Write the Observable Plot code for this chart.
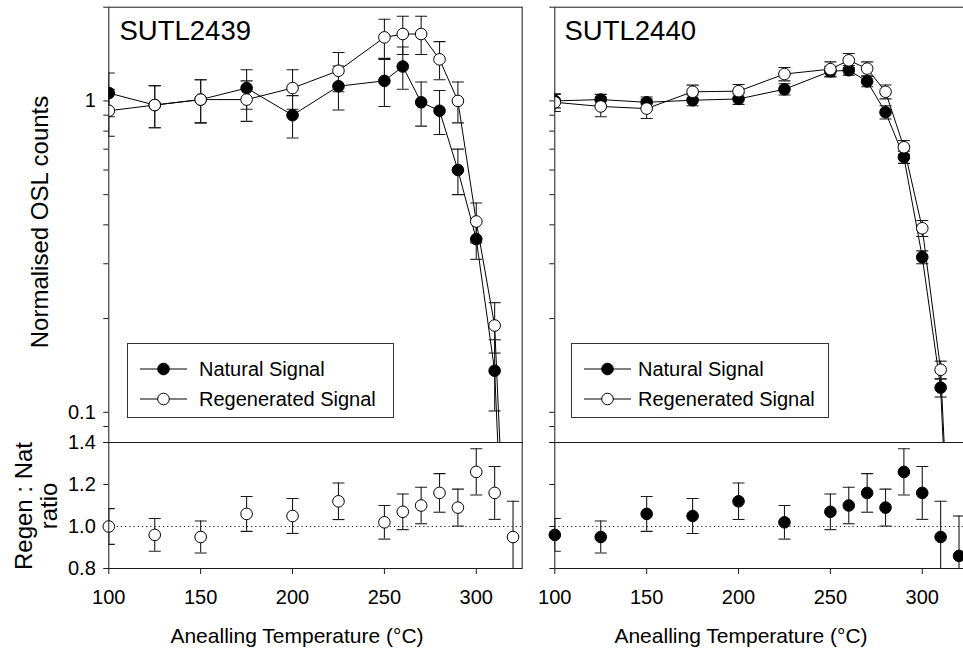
<!DOCTYPE html>
<html><head><meta charset="utf-8">
<script src="https://cdn.jsdelivr.net/npm/d3@7"></script>
<script src="https://cdn.jsdelivr.net/npm/@observablehq/plot@0.6"></script>
<style>
body{margin:0;background:#fff;overflow:hidden;}
#root{position:relative;width:963px;height:655px;overflow:hidden;font-family:"Liberation Sans",Arial,sans-serif;color:#000;}
#root svg{position:absolute;overflow:visible;}
.t{position:absolute;white-space:nowrap;}
.legend{position:absolute;border:1px solid #333;background:#fff;box-sizing:border-box;font-size:20px;}
.legend .row{position:absolute;left:0;height:24px;line-height:24px;}
.legend svg{position:absolute !important;}
</style></head><body><div id="root"></div>
<script>
// ---- data ----
const temps = [100,125,150,175,200,225,250,260,270,280,290,300,310,320];
// SUTL2439 (normalised OSL counts)
const nat2439    = [1.06,0.97,1.01,1.10,0.90,1.115,1.16,1.29,0.99,0.93,0.60,0.36,0.136,0.006];
const natErr2439 = [0.17,0.15,0.16,0.16,0.14,0.18,0.20,0.20,0.16,0.15,0.10,0.05,0.035,0];
const reg2439    = [0.93,0.97,1.01,1.01,1.10,1.25,1.60,1.64,1.64,1.36,1.00,0.41,0.19,0.009];
const regErr2439 = [0.16,0.15,0.16,0.15,0.16,0.18,0.23,0.23,0.23,0.19,0.15,0.06,0.035,0];
// SUTL2440 (normalised OSL counts)
const nat2440    = [1.00,1.01,0.99,1.005,1.015,1.09,1.245,1.255,1.155,0.92,0.66,0.315,0.12,0.006];
const natErr2440 = [0.05,0.04,0.04,0.04,0.04,0.045,0.045,0.045,0.045,0.045,0.03,0.015,0.008,0];
const reg2440    = [0.99,0.96,0.945,1.07,1.075,1.22,1.265,1.35,1.27,1.07,0.71,0.39,0.137,0.008];
const regErr2440 = [0.065,0.07,0.067,0.054,0.054,0.06,0.07,0.07,0.065,0.055,0.036,0.023,0.009,0];
// Regen : Nat ratio
const ratio2439    = [1.00,0.96,0.95,1.06,1.05,1.12,1.02,1.07,1.10,1.16,1.09,1.26,1.16,0.95];
const ratioErr2439 = [0.085,0.078,0.076,0.083,0.083,0.087,0.08,0.085,0.087,0.092,0.088,0.11,0.126,0.17];
const ratio2440    = [0.96,0.95,1.06,1.05,1.12,1.02,1.07,1.10,1.16,1.09,1.26,1.16,0.95,0.86];
const ratioErr2440 = [0.078,0.076,0.083,0.083,0.087,0.08,0.085,0.087,0.092,0.088,0.11,0.126,0.17,0.19];
// ticks
const xTicks = [100,150,200,250,300];
const yMajor = [0.1,1];
const yMinor = [0.08,0.09,0.2,0.3,0.4,0.5,0.6,0.7,0.8,0.9,2];
const ratioTicks = [0.8,1.0,1.2,1.4];
const sampleNames = ["SUTL2439","SUTL2440"];
const seriesNames = ["Natural Signal","Regenerated Signal"];
const xTitle = "Anealling Temperature (°C)";
const yTitleTop = "Normalised OSL counts";
const yTitleBottom = ["Regen : Nat","ratio"];

// ---- helpers ----
const cap = {draw(ctx, size){ const w = Math.sqrt(size/Math.PI); ctx.moveTo(-w,0); ctx.lineTo(w,0); }};
const FONT = '"Liberation Sans", Arial, sans-serif';
const INK = "#1a1a1a";
const root = document.getElementById("root");

function errMarks(rows, key, ekey){
  return [
    Plot.ruleX(rows, {x:"t", y1:d=>d[key]-d[ekey], y2:d=>d[key]+d[ekey], stroke:INK, strokeWidth:1.1, clip:true}),
    Plot.dot(rows, {x:"t", y:d=>d[key]+d[ekey], symbol:cap, r:6, stroke:INK, strokeWidth:1.1, clip:true}),
    Plot.dot(rows, {x:"t", y:d=>d[key]-d[ekey], symbol:cap, r:6, stroke:INK, strokeWidth:1.1, clip:true})
  ];
}

function topPanel(nat, ne, reg, re, labels){
  const rows = temps.map((t,i)=>({t, nat:nat[i], ne:ne[i], reg:reg[i], re:re[i]}));
  return Plot.plot({
    width:530, height:442,
    marginLeft:108.3, marginRight:8.3, marginTop:6.7, marginBottom:0,
    style:{fontFamily:FONT, fontSize:"20px", color:"#000", background:"transparent"},
    x:{domain:[100,325], axis:null},
    y:{type:"log", domain:[0.08,2], axis:null},
    marks:[
      Plot.axisY({ticks:yMinor, tickSize:5, tickFormat:()=>"", label:null, stroke:INK}),
      Plot.axisY({ticks:yMajor, tickSize:5, tickPadding:8, tickFormat: labels ? (d=>d===1?"1":"0.1") : ()=>"", label:null, stroke:INK, fill:"#000", fontSize:20}),
      Plot.line(rows, {x:"t", y:"nat", stroke:"#000", strokeWidth:1, clip:true}),
      Plot.line(rows, {x:"t", y:"reg", stroke:"#000", strokeWidth:1, clip:true}),
      ...errMarks(rows, "nat", "ne"),
      ...errMarks(rows, "reg", "re"),
      Plot.dot(rows, {x:"t", y:"nat", r:5.8, fill:"#000", stroke:"#000", strokeWidth:1, clip:true}),
      Plot.dot(rows, {x:"t", y:"reg", r:5.8, fill:"#fff", stroke:"#000", strokeWidth:1, clip:true}),
      Plot.frame({stroke:INK, strokeWidth:1})
    ]
  });
}

function bottomPanel(ratio, err, open, labels){
  const rows = temps.map((t,i)=>({t, r:ratio[i], e:err[i]}));
  return Plot.plot({
    width:530, height:230,
    marginLeft:108.3, marginRight:8.3, marginTop:12, marginBottom:92,
    style:{fontFamily:FONT, fontSize:"20px", color:"#000", background:"transparent"},
    x:{domain:[100,325], axis:null},
    y:{domain:[0.8,1.4], axis:null},
    marks:[
      Plot.ruleY([1], {stroke:INK, strokeWidth:1, strokeDasharray:"1.2,3"}),
      Plot.axisX({ticks:xTicks, tickSize:6, tickPadding:15, label:null, stroke:INK, fill:"#000", fontSize:20}),
      Plot.axisY({ticks:ratioTicks, tickSize:5, tickPadding:8, tickFormat: labels ? d3.format(".1f") : ()=>"", label:null, stroke:INK, fill:"#000", fontSize:20}),
      Plot.ruleX(rows, {x:"t", y1:d=>d.r-d.e, y2:d=>d.r+d.e, stroke:INK, strokeWidth:1.1, clip:true}),
      Plot.dot(rows, {x:"t", y:d=>d.r+d.e, symbol:cap, r:6, stroke:INK, strokeWidth:1.1, clip:true}),
      Plot.dot(rows, {x:"t", y:d=>d.r-d.e, symbol:cap, r:6, stroke:INK, strokeWidth:1.1, clip:true}),
      Plot.dot(rows, {x:"t", y:"r", r:5.8, fill: open ? "#fff" : "#000", stroke:"#000", strokeWidth:1}),
      Plot.frame({stroke:INK, strokeWidth:1})
    ]
  });
}

function place(el, left, top){ el.style.left = left+"px"; el.style.top = top+"px"; root.appendChild(el); }
function text(str, left, top, size, extra){
  const d = document.createElement("div"); d.className = "t"; d.textContent = str;
  d.style.fontSize = size+"px"; d.style.left = left+"px"; d.style.top = top+"px";
  if (extra) Object.assign(d.style, extra);
  root.appendChild(d); return d;
}
function legend(left, top, width, textLeft, lineLeft){
  const box = document.createElement("div"); box.className = "legend";
  Object.assign(box.style, {left:left+"px", top:top+"px", width:width+"px", height:"75px"});
  seriesNames.forEach((name,i)=>{
    const row = document.createElement("div"); row.className = "row";
    row.style.top = (12.5 + i*30)+"px"; row.style.width = "100%";
    const svg = document.createElementNS("http://www.w3.org/2000/svg","svg");
    svg.setAttribute("width","60"); svg.setAttribute("height","24");
    svg.style.left = lineLeft+"px"; svg.style.top = "0px";
    svg.innerHTML = `<line x1="0" x2="47" y1="12" y2="12" stroke="#000" stroke-width="1"/><circle cx="23.5" cy="12" r="5.8" fill="${i===0?"#000":"#fff"}" stroke="#000" stroke-width="1"/>`;
    row.appendChild(svg);
    const lab = document.createElement("span"); lab.textContent = name;
    lab.style.position = "absolute"; lab.style.left = textLeft+"px"; lab.style.whiteSpace="nowrap";
    row.appendChild(lab);
    box.appendChild(row);
  });
  root.appendChild(box);
}

// ---- panels ----
place(topPanel(nat2439, natErr2439, reg2439, regErr2439, true), 0, 0);
place(bottomPanel(ratio2439, ratioErr2439, true, true), 0, 430);
place(topPanel(nat2440, natErr2440, reg2440, regErr2440, false), 445.7, 0);
place(bottomPanel(ratio2440, ratioErr2440, false, false), 445.7, 430);

// panel titles
text(sampleNames[0], 119.5, 15, 27.5);
text(sampleNames[1], 564.5, 15, 27.5);

// legends
legend(127, 343, 267, 71, 12);
legend(571, 343, 258, 66, 12);

// axis titles
text(xTitle, 297, 624, 21, {transform:"translateX(-50%)"});
text(xTitle, 741, 624, 21, {transform:"translateX(-50%)"});
text(yTitleTop, 0, 0, 24, {left:"40px", top:"222px", transform:"translate(-50%,-50%) rotate(-90deg)"});
const yb = text("", 0, 0, 24, {left:"36px", top:"506px", transform:"translate(-50%,-50%) rotate(-90deg)", textAlign:"center", lineHeight:"25px", whiteSpace:"pre"});
yb.textContent = yTitleBottom.join("\n");
</script></body></html>
